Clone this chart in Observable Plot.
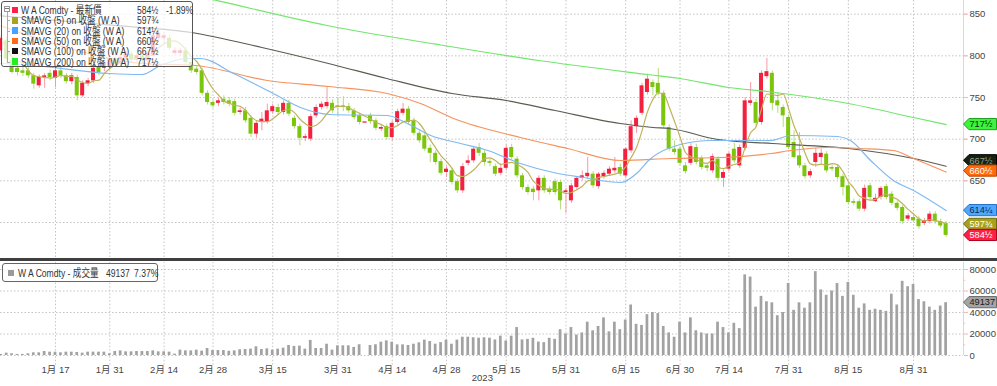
<!DOCTYPE html>
<html><head><meta charset="utf-8">
<script src="https://cdn.jsdelivr.net/npm/d3@7"></script>
<script src="https://cdn.jsdelivr.net/npm/@observablehq/plot@0.6"></script>
<style>
html,body{margin:0;padding:0;background:#fff}
#wrap{position:relative;width:997px;height:386px;overflow:hidden;background:#fff;font-family:"Liberation Sans","Noto Sans CJK TC",sans-serif;color:#333}
.abs{position:absolute}
.t{position:absolute;font-size:11px;line-height:12px;white-space:nowrap;color:#333;transform:scaleX(0.78);transform-origin:0 50%}
svg{display:block}
</style></head><body><div id="wrap"></div>
<script>
// ---------- data ----------
// daily candles [open, high, low, close], 2022-12-30 .. 2023-09-11 (index 0..174)
const candles = [
[806,824,803,821],[818,822,792,796],[794,797,778,780],[785,788,776,780],[782,786,775,779],
[782,787,773,776],[776,779,760,766],[764,777,761,774],[774,779,761,776],[779,783,770,774],
[773,785,762,782],[782,786,773,776],[776,779,766,769],[769,779,765,776],[774,777,746,752],
[752,770,750,767],[767,773,763,770],[770,790,767,785],[786,790,776,780],[785,795,781,792],
[786,800,783,797],[797,801,786,790],[790,801,787,798],[797,806,794,802],[802,805,791,795],
[795,803,792,800],[800,804,790,794],[794,806,791,803],[800,828,798,824],[821,831,816,827],
[821,828,814,824],[821,825,806,809],[803,810,800,806],[803,809,799,806],[806,810,789,792],
[792,796,779,782],[784,787,777,780],[782,785,752,755],[755,758,741,744],[744,747,737,740],
[743,749,739,746],[748,752,741,744],[746,750,739,742],[745,748,728,731],[732,737,729,734],
[734,738,719,722],[725,728,702,706],[706,721,701,719],[721,732,710,724],[721,742,718,734],
[733,742,730,739],[738,742,729,732],[732,746,729,743],[743,747,727,730],[725,728,712,715],
[715,718,692,701],[701,706,697,703],[700,730,697,727],[728,741,725,738],[738,745,735,742],
[739,763,736,744],[743,747,731,734],[740,750,728,738],[740,751,733,738],[739,743,731,734],
[734,737,723,726],[728,731,717,720],[720,720,720,720],[728,731,718,721],[722,725,710,713],
[712,717,709,714],[715,718,699,702],[702,722,698,719],[720,736,717,733],[731,743,728,736],
[736,739,717,720],[722,725,704,707],[707,710,695,698],[704,707,685,688],[689,693,672,683],
[683,686,669,672],[673,676,656,659],[660,667,654,664],[662,665,645,648],[649,652,635,638],
[638,671,635,667],[671,680,668,674],[674,691,671,688],[690,695,679,683],[683,686,668,672],
[673,676,667,671],[667,670,655,658],[659,670,656,665],[665,693,662,689],[690,694,675,678],
[676,679,653,656],[656,659,639,642],[642,645,633,636],[640,643,626,636],[638,656,626,653],
[653,656,635,638],[640,643,633,636],[649,652,633,636],[648,651,615,626],[636,641,611,638],
[626,647,623,644],[642,655,639,653],[653,662,650,656],[655,678,652,659],[658,661,641,644],
[643,660,640,658],[655,662,652,659],[658,667,655,664],[662,678,659,665],[666,670,655,658],
[656,690,653,688],[686,722,683,715],[715,728,707,725],[731,767,728,764],[756,778,753,772],
[768,771,752,762],[767,785,752,755],[755,758,713,716],[714,717,685,688],[688,698,681,684],
[688,691,668,671],[668,672,658,661],[671,695,668,691],[690,694,669,672],[677,680,663,666],
[668,671,661,665],[662,682,659,679],[676,679,649,653],[653,663,642,660],[664,684,661,682],
[688,695,671,674],[668,693,665,690],[689,750,686,746],[743,768,740,746],[744,748,715,719],
[720,782,717,779],[775,797,772,781],[779,782,734,743],[746,756,731,740],[738,741,714,728],
[726,729,687,690],[696,710,676,678],[680,708,665,668],[668,671,652,655],[656,664,653,661],
[672,689,666,683],[678,688,670,683],[682,685,659,662],[666,669,661,664],[666,669,651,654],
[655,658,632,642],[644,647,621,624],[625,628,620,623],[625,628,613,616],[616,645,613,641],
[644,647,627,630],[625,634,624,629],[630,643,627,641],[643,646,627,630],[634,637,620,623],
[623,626,614,617],[618,621,598,601],[604,611,601,608],[606,611,600,602],[604,607,592,595],
[599,605,596,602],[601,613,598,610],[610,613,598,601],[601,604,593,595.75],[599,601,582,584.5]
];
// daily volume (contracts), same index
const volume = [
1000,2200,1600,1000,1000,1600,2500,2500,3700,3100,
3100,2500,3100,3100,2800,2200,3100,3100,3100,3100,
1600,3700,4300,3400,3400,3700,3700,3700,4300,3400,
3400,3100,1300,5000,4300,4300,5000,4000,6500,4600,
4600,4600,3900,4300,5300,5600,5900,8100,5600,6200,
5000,5900,6800,9300,8400,8700,5900,14000,6500,6500,
10500,5000,9000,9000,9000,7500,10000,0,9300,10000,
12400,13600,12400,9900,9900,9300,10500,11800,14300,13000,
10500,12000,14300,10500,14300,17000,17000,16500,16100,16500,
16100,14500,18000,13500,18000,26000,14500,15000,16000,12500,
12000,16000,15000,24000,20000,26000,19000,21000,31000,23000,
27000,35000,22000,31000,24000,33000,47000,29000,28000,38000,
40000,39000,27000,21000,17000,31000,21000,35000,23000,21000,
20000,20000,31000,26000,21000,30000,25000,75000,73000,45000,
55000,50000,49000,37000,40000,67000,42000,49000,44000,49000,
78000,61000,56000,60000,67000,55000,68000,56000,44000,48000,
42000,43000,42000,41000,57000,47000,69000,64000,66000,52000,
50000,45000,42000,46000,49137
];
// moving averages: [day index, value]
const sma20 = [[0,790.8],[6,788.4],[20,778.8],[26,777.6],[29.3,788.4],[34.3,796.8],[36.7,796.8],[42.8,778.8],[50.1,754.8],[55.1,738],[60.6,729.6],[71.1,728.4],[74.8,718.8],[79.1,704.4],[84.6,694.8],[89.6,686.4],[95.6,670.8],[101.7,660],[107.2,654],[114.1,648],[117.2,660],[119.2,674.4],[123.3,690],[130.6,698.4],[141.7,698.4],[145.4,704.4],[154,703.2],[156.4,698.4],[160.1,674.4],[164.3,650.4],[168,638.4],[174,614.25]];
const sma50 = [[0,836],[8,818],[16,803],[25.7,791],[35.8,788.4],[49,770.4],[60.3,763.2],[71.1,754.8],[77.2,742.8],[83.3,724.8],[95.6,702],[104.3,688.8],[114.1,674.4],[123.3,676.8],[132.5,678],[141.7,682.8],[145.4,686.4],[152.2,690],[158.3,688.8],[164.3,686.4],[168,676.8],[174,660.5]];
const sma100 = [[0,848],[22,836],[35,828],[48,810],[61,789.6],[71,772.8],[83,754.8],[93,746.4],[102,734.4],[114,718.8],[120,714],[123,712.8],[132,699.6],[142,694.8],[156,688.8],[168,676.8],[174,667.5]];
const sma200 = [[0,926],[40,866],[60,836.4],[80,814],[99,794.4],[119,777.6],[125,772.8],[134,762],[141,757.2],[156,742.8],[168,726],[174,717.5]];
const tickIndex = [10,20,30,39,50,62,72,82,93,104,115,125,134,145,156,168];
const tickLabels = ["1月 17","1月 31","2月 14","2月 28","3月 15","3月 31","4月 14","4月 28","5月 15","5月 31","6月 15","6月 30","7月 14","7月 31","8月 15","8月 31"];
const priceTicks = [600,650,700,750,800,850];
const priceLabelTicks = [650,700,750,800,850]; // 600 is hidden under the value tags in the reference
const volTicks = [0,20000,40000,60000,80000];
const volMinor = [10000,30000,50000,70000];
const legendRows = [
  {label:"W A Comdty - 最新價", value:"584½", extra:"-1.89%", color:"#ff1f4b"},
  {label:"SMAVG (5)  on 收盤 (W A)", value:"597¾", color:"#a8a21e"},
  {label:"SMAVG (20)  on 收盤 (W A)", value:"614¼", color:"#46a3ff"},
  {label:"SMAVG (50)  on 收盤 (W A)", value:"660½", color:"#ff6a16"},
  {label:"SMAVG (100)  on 收盤 (W A)", value:"667½", color:"#101010"},
  {label:"SMAVG (200)  on 收盤 (W A)", value:"717½", color:"#22ee22"}
];
const lastValues = {sma200:717.5, sma100:667.5, sma50:660.5, sma20:614.25, sma5:597.75, last:584.5, vol:49137};

// ---------- build ----------
const data = candles.map(([o,h,l,c],i)=>({i,o,h,l,c,v:volume[i],up:c>=o}));
const RED="#f3203f", GREEN="#7cc50d", RED_W="#f49aa6", GREEN_W="#b6da7c";
const GRID="#c4c4c4", DASH="1.5,2";
const XD=[-0.13,177.2];
const font='"Liberation Sans","Noto Sans CJK TC",sans-serif';
const wrap=document.getElementById("wrap");

const price = Plot.plot({
  width:997, height:258, marginLeft:0, marginRight:34, marginTop:0, marginBottom:0,
  x:{domain:XD, axis:null, label:null},
  y:{domain:[556.8,866.4], axis:null, label:null},
  style:{fontFamily:font, background:"transparent"},
  marks:[
    Plot.ruleY(priceTicks,{stroke:GRID, strokeDasharray:DASH}),
    Plot.ruleX(tickIndex,{stroke:GRID, strokeDasharray:DASH}),
    Plot.ruleX(data,{x:"i", y1:"l", y2:"h", stroke:d=>d.up?RED_W:GREEN_W, strokeWidth:1}),
    Plot.rect(data,{x1:d=>d.i-0.37, x2:d=>d.i+0.37,
      y1:d=>Math.min(d.o,d.c)-(Math.abs(d.c-d.o)<1.5?0.8:0),
      y2:d=>Math.max(d.o,d.c)+(Math.abs(d.c-d.o)<1.5?0.8:0),
      fill:d=>d.up?RED:GREEN}),
    Plot.line(sma200,{x:d=>d[0], y:d=>d[1], stroke:"#72e66c", strokeWidth:1.2, curve:"monotone-x", clip:true}),
    Plot.line(sma100,{x:d=>d[0], y:d=>d[1], stroke:"#5b5b52", strokeWidth:1.2, curve:"monotone-x", clip:true}),
    Plot.line(sma50,{x:d=>d[0], y:d=>d[1], stroke:"#f7935e", strokeWidth:1.2, curve:"monotone-x", clip:true}),
    Plot.line(sma20,{x:d=>d[0], y:d=>d[1], stroke:"#7fb9f2", strokeWidth:1.2, curve:"monotone-x", clip:true}),
    Plot.line(data, Plot.windowY({k:5, anchor:"end", reduce:"mean"},{x:"i", y:"c", stroke:"#bfb25a", strokeWidth:1.2, curve:"monotone-x", clip:true})),
    Plot.ruleX([XD[1]],{stroke:"#f4cccc"}),
    Plot.ruleY(priceTicks,{x1:XD[1], x2:XD[1]+0.75, stroke:"#f0b8b8"}),
    Plot.axisY({anchor:"right", ticks:priceLabelTicks, tickSize:4, tickPadding:2, fontSize:9.5, stroke:"#f0b8b8", fill:"#444", label:null})
  ]
});

const vol = Plot.plot({
  width:997, height:125, marginLeft:0, marginRight:34, marginTop:1, marginBottom:31,
  x:{domain:XD, axis:null, label:null},
  y:{domain:[0,86512], axis:null, label:null},
  style:{fontFamily:font, background:"transparent", overflow:"visible"},
  marks:[
    Plot.ruleY(volTicks,{stroke:GRID, strokeDasharray:DASH}),
    Plot.ruleX(tickIndex,{y1:-9000, y2:86512, stroke:GRID, strokeDasharray:DASH}),
    Plot.rect(data,{x1:d=>d.i-0.25, x2:d=>d.i+0.25, y1:0, y2:"v", fill:"#a2a2a2"}),
    Plot.ruleX([XD[1]],{stroke:"#f4cccc"}),
    Plot.ruleY(volMinor,{x1:XD[1], x2:XD[1]+0.4, stroke:"#f4c4c4"}),
    Plot.axisY({anchor:"right", ticks:volTicks, tickSize:4, tickPadding:2, fontSize:9.5, tickFormat:d=>String(d), stroke:"#f0b8b8", fill:"#444", label:null}),
    Plot.axisX({ticks:tickIndex, tickFormat:d=>tickLabels[tickIndex.indexOf(d)], tickSize:0, tickPadding:11, fontSize:9.5, fill:"#444", label:null}),
    Plot.text(["2023"],{x:88.6, frameAnchor:"bottom", dy:25, fontSize:9.5, fill:"#444"})
  ]
});

function tag(svg, y, bg, border, fg, text){
  const g=d3.select(svg).append("g");
  const h=5.6;
  g.append("path").attr("d",`M963.5,${y} L969,${y-h} L996.5,${y-h} L996.5,${y+h} L969,${y+h} Z`)
    .attr("fill",bg).attr("stroke",border).attr("stroke-width",1);
  g.append("text").attr("x",969.5).attr("y",y).attr("dy","0.36em").attr("fill",fg)
    .attr("text-anchor","start").attr("font-size",9.2).attr("font-family",font).text(text);
}
const ys=price.scale("y");
tag(price, ys.apply(lastValues.sma200), "#3ef23e","#1f9f1f","#0b2a0b","717½");
tag(price, ys.apply(lastValues.sma100)-5.5, "#14220f","#000","#9aa39a","667½");
tag(price, ys.apply(lastValues.sma50)-1, "#ff6a0d","#b84700","#fff","660½");
tag(price, ys.apply(lastValues.sma20), "#4fa8ff","#2a6fc0","#0a2a55","614¼");
tag(price, ys.apply(lastValues.sma5), "#a8a21a","#6e6a0e","#fff","597¾");
tag(price, ys.apply(lastValues.last), "#ff1f46","#b0001f","#fff","584½");
const yv=vol.scale("y");
tag(vol, yv.apply(lastValues.vol), "#a4a4a4","#6a6a6a","#1a1a1a","49137");

const p1=document.createElement("div"); p1.className="abs"; p1.style.left="0px"; p1.style.top="0px"; p1.appendChild(price); wrap.appendChild(p1);
const band=document.createElement("div"); band.className="abs"; Object.assign(band.style,{left:"0px",top:"258px",width:"997px",height:"3px",background:"#3f3f3f"}); wrap.appendChild(band);
const p2=document.createElement("div"); p2.className="abs"; p2.style.left="0px"; p2.style.top="261px"; p2.appendChild(vol); wrap.appendChild(p2);

// legend 1 (price)
function el(css, html){const d=document.createElement("div"); d.className="abs"; Object.assign(d.style,css); if(html!==undefined) d.innerHTML=html; wrap.appendChild(d); return d;}
function txt(s,x,y){const t=document.createElement("div"); t.className="t"; t.style.left=x+"px"; t.style.top=y+"px"; t.textContent=s; wrap.appendChild(t); return t;}
el({left:"1px",top:"1px",width:"190px",height:"64px",border:"1.5px solid #555",borderRadius:"3px",background:"rgba(255,255,255,0.72)"});
el({left:"4px",top:"6px",width:"4px",height:"4px",border:"1px solid #999",background:"#fff"});
el({left:"5px",top:"8px",width:"4px",height:"1px",background:"#777"});
el({left:"6.5px",top:"12px",width:"1px",height:"50px",background:"#aaa"});
legendRows.forEach((r,k)=>{
  const cy=10+10.3*k;
  if(k>0) el({left:"7px",top:(cy)+"px",width:"3px",height:"1px",background:"#aaa"});
  el({left:"11.5px",top:(cy-3.3)+"px",width:"6.5px",height:"6.5px",background:r.color});
  txt(r.label,21,cy-6);
  txt(r.value,137,cy-6);
  if(r.extra) txt(r.extra,166,cy-6);
});
// legend 2 (volume)
el({left:"2px",top:"263px",width:"154px",height:"17px",border:"1.5px solid #666",borderRadius:"3px",background:"rgba(255,255,255,0.8)"});
el({left:"8px",top:"270px",width:"6px",height:"6px",background:"#9a9a9a"});
txt("W A Comdty - 成交量",17.5,267);
txt("49137",106,267);
txt("7.37%",134,267);
</script></body></html>
